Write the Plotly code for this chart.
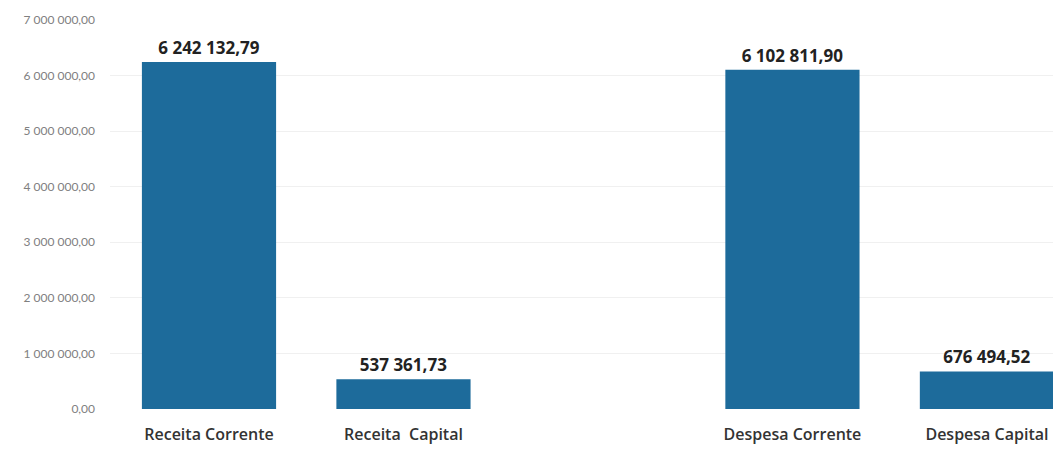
import plotly.graph_objects as go

categories = ["Receita Corrente", "Receita  Capital", "Despesa Corrente", "Despesa Capital"]
positions = [0, 1, 3, 4]
values = [6242132.79, 537361.73, 6102811.90, 676494.52]
y_ticks = [0, 1000000, 2000000, 3000000, 4000000, 5000000, 6000000, 7000000]

fig = go.Figure(go.Bar(
    x=positions, y=values,
    marker=dict(color="#1d6b9b", line=dict(width=0)),
    width=0.69,
    texttemplate="<b>%{y:,.2f}</b>", textposition="outside",
    textfont=dict(family="Open Sans", size=17, color="#222222"),
    cliponaxis=False,
))

fig.update_layout(
    width=1061, height=463,
    margin=dict(l=102, r=0, t=12, b=62),
    paper_bgcolor="white", plot_bgcolor="white",
    separators=", ",
    showlegend=False,
    font=dict(family="Open Sans"),
    xaxis=dict(
        range=[-0.509, 4.422],
        tickvals=positions, ticktext=categories,
        tickfont=dict(family="Open Sans", size=16, color="#333333", weight=600),
        showgrid=False, zeroline=False, showline=False, ticks="",
        ticklabelstandoff=14,
    ),
    yaxis=dict(
        range=[0, 7000000],
        tickvals=y_ticks, tickformat=",.2f",
        tickfont=dict(family="Lato", size=12, color="#808080"),
        showgrid=True, gridcolor="#f0f0f0", zeroline=False, showline=False,
        ticklabelstandoff=14,
    ),
)
fig.write_html("out.html")
